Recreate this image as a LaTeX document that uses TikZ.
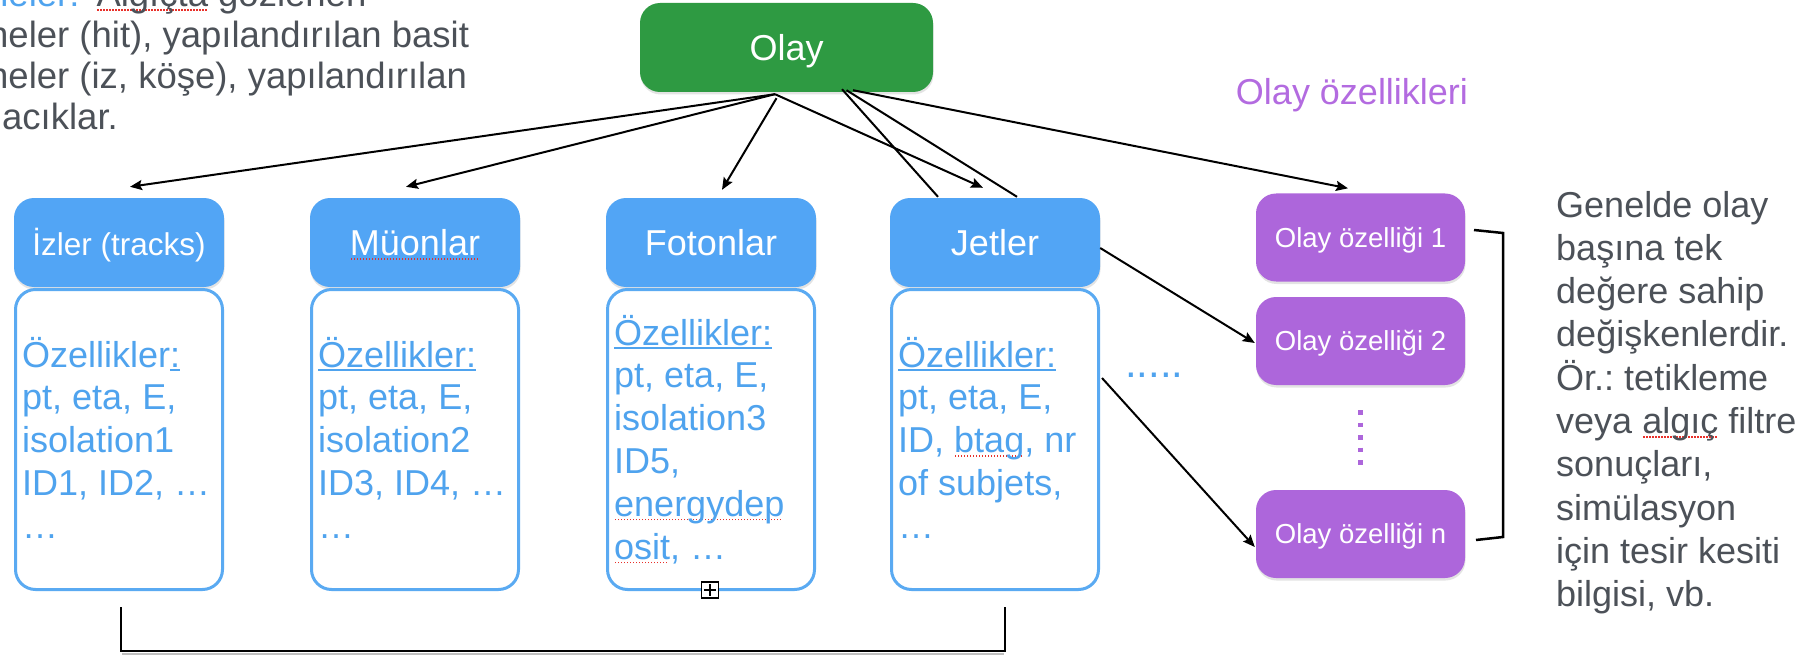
\documentclass[tikz,border=0pt]{standalone}
\usepackage{fontspec}
\setmainfont{Liberation Sans}
\usetikzlibrary{shadows,calc,arrows.meta}
\definecolor{hblue}{HTML}{52A5F5}
\definecolor{bblue}{HTML}{5AAAF2}
\definecolor{tblue}{HTML}{4FA3EE}
\definecolor{ogreen}{HTML}{2E9A42}
\definecolor{ppurple}{HTML}{AD66DB}
\definecolor{tpurple}{HTML}{B36BE0}
\definecolor{tgray}{HTML}{4C5158}
\definecolor{spellred}{HTML}{E8302A}
\newcommand\ulbl[1]{\setbox0\hbox{#1}\rlap{\color{tblue}\rule[-4pt]{\wd0}{1.6pt}}\box0\relax}
\newcommand\spellerr[1]{\setbox0\hbox{#1}\rlap{\raisebox{-4pt}{\color{spellred}\hbox to \wd0{\leaders\hbox to 3pt{\hss\rule{1.5pt}{1.5pt}\hss}\hfill}}}\box0\relax}
\begin{document}
\frenchspacing
\begin{tikzpicture}[x=1pt,y=-1pt,
  shade/.style={drop shadow={opacity=0.22,shadow xshift=0.5pt,shadow yshift=-2.5pt}},
  hdrbox/.style={shade,rounded corners=20pt,fill=hblue,minimum width=210pt,minimum height=89pt,
    text=white,inner sep=0,text height=26pt,text depth=0pt,font=\fontsize{36}{43}\selectfont},
  bodybox/.style={rounded corners=20pt,draw=bblue,line width=3pt,fill=white,
    minimum width=207pt,minimum height=300pt,inner sep=0},
  olaybox/.style={shade,rounded corners=20pt,fill=ogreen,minimum width=293pt,minimum height=89pt,
    text=white,inner sep=0,text height=26pt,text depth=0pt,font=\fontsize{36}{43}\selectfont},
  propbox/.style={shade,rounded corners=20pt,fill=ppurple,minimum width=209pt,minimum height=88pt,
    text=white,inner sep=0,text height=19.7pt,text depth=0pt,font=\fontsize{27.5}{33}\selectfont},
  btext/.style={anchor=base west,inner sep=0,text=tblue,font=\fontsize{36}{42.8}\selectfont},
  gtext/.style={anchor=base west,inner sep=0,text=tgray,font=\fontsize{36}{43.3}\selectfont},
  arr/.style={line width=2pt,-{Stealth[length=12pt,width=10pt,inset=2pt]}},
  plain/.style={line width=2pt},
  brk/.style={line width=2.5pt,line join=miter}]
\clip (0,0) rectangle (1819,655);
\path[use as bounding box] (0,0) rectangle (1819,655);

% top-left partly visible text
\node[anchor=base west,inner sep=0,text=tgray,font=\fontsize{36.5}{40.7}\selectfont] (tl) at (-12,7)
  {\vtop{\hbox{\textcolor{tblue}{neler:}\hspace{17pt}\spellerr{Algıçta} gözlenen}
         \hbox{neler (hit), yapılandırılan basit}
         \hbox{neler (iz, köşe), yapılandırılan}
         \hbox{\hspace*{14pt}acıklar.}}};

% event
\node[olaybox] (olay) at (786.5,47.5) {Olay};

% headers
\node[hdrbox] (izH) at (119,242.5) {\fontsize{31.5}{36}\selectfont İzler (tracks)};
\node[hdrbox] (muH) at (415,242.5) {\spellerr{Müonlar}};
\node[hdrbox] (foH) at (711,242.5) {Fotonlar};
\node[hdrbox] (jeH) at (995,242.5) {Jetler};

% bodies
\node[bodybox] (izB) at (119,439.5) {};
\node[bodybox] (muB) at (415,439.5) {};
\node[bodybox] (foB) at (711,439.5) {};
\node[bodybox] (jeB) at (995,439.5) {};

\node[btext] (izT) at (22,367) {\vtop{\hbox{Özellikler\ulbl{:}}\hbox{pt, eta, E,}\hbox{isolation1}\hbox{ID1, ID2, …}\hbox{…}}};
\node[btext] (muT) at (318,367) {\vtop{\hbox{\ulbl{Özellikler:}}\hbox{pt, eta, E,}\hbox{isolation2}\hbox{ID3, ID4, …}\hbox{…}}};
\node[btext] (foT) at (614,345) {\vtop{\hbox{\ulbl{Özellikler:}}\hbox{pt, eta, E,}\hbox{isolation3}\hbox{ID5,}\hbox{\spellerr{energydep}}\hbox{\spellerr{osit}, …}}};
\node[btext] (jeT) at (898,367) {\vtop{\hbox{\ulbl{Özellikler:}}\hbox{pt, eta, E,}\hbox{ID, \spellerr{btag}, nr}\hbox{of subjets,}\hbox{…}}};

% overflow marker
\node[draw,line width=1.3pt,minimum width=17pt,minimum height=16pt,inner sep=0,fill=white] (plus) at (710,590) {};
\draw[line width=1.2pt] ($(plus.north)+(0,3)$) -- ($(plus.south)+(0,-3)$);
\draw[line width=1.2pt] ($(plus.west)+(3,0)$) -- ($(plus.east)+(-3,0)$);

% dots
\node[anchor=base west,inner sep=0,text=tblue,font=\fontsize{42}{42}\selectfont] (dots) at (1125,377) {.....};

% event properties
\node[anchor=base,inner sep=0,text=tpurple,font=\fontsize{36}{43}\selectfont] (ozl) at (1352,105) {Olay özellikleri};
\node[propbox] (p1) at (1360.5,237.5) {Olay özelliği 1};
\node[propbox] (p2) at (1360.5,341) {Olay özelliği 2};
\node[propbox] (pn) at (1360.5,534) {Olay özelliği n};
\draw[ppurple,line width=4.5pt,dash pattern=on 4.5pt off 8pt] ($(p2.south)+(0,25)$) -- ($(pn.north)+(0,-22)$);

% description
\node[gtext] (desc) at (1556,217) {\vtop{\hbox{Genelde olay}\hbox{başına tek}\hbox{değere sahip}\hbox{değişkenlerdir.}\hbox{Ör.: tetikleme}\hbox{veya \spellerr{algıç} filtre}\hbox{sonuçları,}\hbox{simülasyon}\hbox{için tesir kesiti}\hbox{bilgisi, vb.}}};

% connectors
\draw[arr] ($(olay.south)+(-11.5,2)$) -- ($(izH.north)+(11,-11)$);
\draw[arr] ($(olay.south)+(-11.5,2)$) -- ($(muH.north)+(-9,-11)$);
\draw[arr] ($(olay.south)+(-10,6)$) -- ($(foH.north)+(11,-8)$);
\draw[arr] ($(olay.south)+(-11.5,2)$) -- ($(jeH.north)+(-12,-10)$);
\draw[plain] ($(olay.south)+(55.5,-3)$) -- ($(jeH.north)+(-57,-1)$);
\draw[plain] ($(olay.south)+(60,-2)$) -- ($(jeH.north)+(22,-1)$);
\draw[arr] ($(olay.south)+(66.5,-2)$) -- ($(p1.north)+(-12.5,-5)$);
\draw[arr] ($(jeH.east)+(0,5.5)$) -- ($(p2.west)+(-1,2)$);
\draw[arr] ($(jeB.north east)+(2,90)$) -- ($(pn.west)+(-1,13)$);

% brackets
\draw[brk] (1474,230) -- (1503,233) -- (1503,537) -- (1476,540);
\draw[line width=2pt,black!25] (122,653.5) -- (1004,653.5);
\draw[brk] (121,607) -- (121,651) -- (1005,651) -- (1005,607);
\end{tikzpicture}
\end{document}
